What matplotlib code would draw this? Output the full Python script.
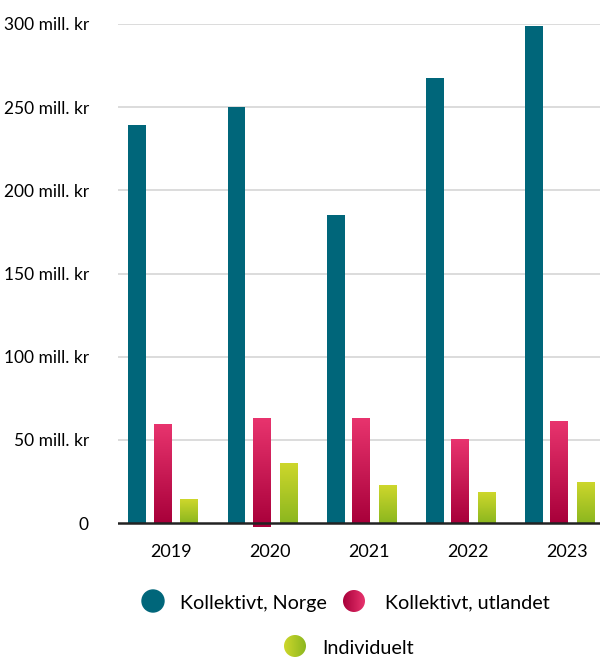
import numpy as np
import matplotlib
matplotlib.use("Agg")
import matplotlib.pyplot as plt
from matplotlib.colors import LinearSegmentedColormap
from matplotlib.patches import Circle

plt.rcParams["font.family"] = ["Lato", "DejaVu Sans"]

years = ["2019", "2020", "2021", "2022", "2023"]
norge = [239.3, 250.1, 185.2, 267.6, 298.9]
utland = [59.3, 63.1, 63.1, 50.5, 61.3]
utland_neg = [0, -2.4, 0, 0, 0]
individuelt = [14.4, 36.1, 22.8, 18.6, 24.7]
series_names = ["Kollektivt, Norge", "Kollektivt, utlandet", "Individuelt"]
y_ticks = [0, 50, 100, 150, 200, 250, 300]
y_labels = ["0", "50 mill. kr", "100 mill. kr", "150 mill. kr",
            "200 mill. kr", "250 mill. kr", "300 mill. kr"]

teal = "#00667a"
pink_cmap = LinearSegmentedColormap.from_list("pink", ["#a8003a", "#e8346e"])
green_cmap = LinearSegmentedColormap.from_list("green", ["#8cb71f", "#ced72c"])

W, H = 601, 659
fig = plt.figure(figsize=(W / 100, H / 100), dpi=100)

ymin, ymax = -6, 300
top_px, zero_px = 24, 523
px_per_unit = (zero_px - top_px) / 300
bot_px = zero_px - ymin * px_per_unit
left_px, right_px = 118, 600
ax = fig.add_axes([left_px / W, 1 - bot_px / H, (right_px - left_px) / W, (bot_px - top_px) / H])

x = np.arange(len(years))
width = 0.18
offsets = [-0.265, -0.01, 0.26]

for yv in y_ticks[1:]:
    ax.axhline(yv, color="#d9d9d9", lw=1.3, zorder=0)

ax.bar(x + offsets[0], norge, width=width, color=teal, zorder=2)


def gradient_bar(ax, xc, bottom, top, cmap):
    grad = np.linspace(0, 1, 256).reshape(-1, 1)
    im = ax.imshow(grad, cmap=cmap, origin="lower", aspect="auto",
                   extent=[xc - width / 2, xc + width / 2, bottom, top], zorder=2)
    rect = plt.Rectangle((xc - width / 2, bottom), width, top - bottom,
                         transform=ax.transData, facecolor="none", edgecolor="none")
    ax.add_patch(rect)
    im.set_clip_path(rect)


for i in range(len(years)):
    gradient_bar(ax, x[i] + offsets[1], utland_neg[i], utland[i], pink_cmap)
    gradient_bar(ax, x[i] + offsets[2], 0, individuelt[i], green_cmap)

ax.set_xlim(-0.46, 4.4)
ax.set_ylim(ymin, ymax)
ax.axhline(0, color="#222222", lw=1.8, zorder=3)

ax.set_yticks(y_ticks)
ax.set_yticklabels(y_labels, fontsize=12.5)
ax.set_xticks(x + 0.07)
ax.set_xticklabels(years, fontsize=13)
ax.tick_params(length=0, pad=21, axis="y")
ax.tick_params(length=0, pad=8, axis="x")
for s in ax.spines.values():
    s.set_visible(False)

# legend drawn in pixel coordinates
lg = fig.add_axes([0, 0, 1, 1])
lg.axis("off")
lg.patch.set_alpha(0)


def legend_dot(cx, cy, color=None, cmap=None):
    r = 11
    if cmap is None:
        lg.add_patch(Circle((cx, cy), r, color=color))
        return
    grad = np.linspace(0, 1, 256).reshape(1, -1)
    im = lg.imshow(grad, cmap=cmap, aspect="auto",
                   extent=[cx - r, cx + r, cy + r, cy - r])
    c = Circle((cx, cy), r, facecolor="none", edgecolor="none")
    lg.add_patch(c)
    im.set_clip_path(c)


legend_dot(153, 601, color=teal)
legend_dot(354, 601, cmap=pink_cmap)
legend_dot(295, 646, cmap=green_cmap.reversed())
lg.set_xlim(0, W)
lg.set_ylim(H, 0)
lg.text(180, 603, series_names[0], fontsize=14.2, va="center", ha="left")
lg.text(385, 603, series_names[1], fontsize=14.2, va="center", ha="left")
lg.text(322, 648, series_names[2], fontsize=14.2, va="center", ha="left")

fig.savefig("out.png", dpi=100)
